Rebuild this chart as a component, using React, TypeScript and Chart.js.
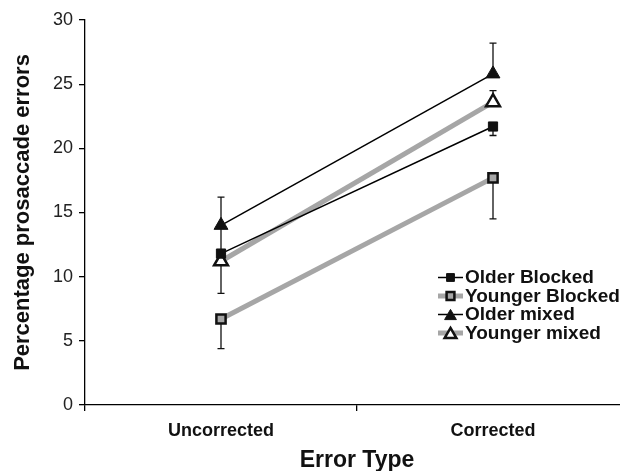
import React, { useEffect, useRef } from 'react';
import { Chart, registerables } from 'chart.js';

Chart.register(...registerables);

const categories = ['Uncorrected', 'Corrected'];
const seriesNames = ['Older Blocked', 'Younger Blocked', 'Older mixed', 'Younger mixed'];
const olderBlocked = [11.8, 21.7];
const youngerBlocked = [6.7, 17.7];
const olderMixed = [14.0, 25.8];
const youngerMixed = [11.2, 23.6];
// one-sided error bars (negative = drawn downward)
const olderBlockedErr = [-3.1, -0.7];
const youngerBlockedErr = [-2.3, -3.2];
const olderMixedErr = [2.2, 2.4];
const youngerMixedErr = [2.6, 0.9];
const yTicks = [0, 5, 10, 15, 20, 25, 30];
const xTitle = 'Error Type';
const yTitle = 'Percentage prosaccade errors';

const FONT = "'Liberation Sans', Arial, Helvetica, sans-serif";
const BLACK = '#000000';
const GRAY = '#a6a6a6';

const errorArrays = [olderBlockedErr, youngerBlockedErr, olderMixedErr, youngerMixedErr];

const errorBarPlugin = {
  id: 'errorBars',
  beforeDatasetsDraw(chart: any) {
    const { ctx } = chart;
    const x = chart.scales.x;
    const y = chart.scales.y;
    ctx.save();
    ctx.strokeStyle = '#111';
    ctx.lineWidth = 1.3;
    errorArrays.forEach((errs, di) => {
      const vals = chart.data.datasets[di].data as number[];
      errs.forEach((e, i) => {
        const px = x.getPixelForValue(i);
        const y0 = y.getPixelForValue(vals[i]);
        const y1 = y.getPixelForValue(vals[i] + e);
        ctx.beginPath();
        ctx.moveTo(px, y0);
        ctx.lineTo(px, y1);
        ctx.moveTo(px - 3.5, y1);
        ctx.lineTo(px + 3.5, y1);
        ctx.stroke();
      });
    });
    ctx.restore();
  },
};

function drawMarker(ctx: CanvasRenderingContext2D, style: string, cx: number, cy: number, r: number, fill: string, stroke: string, lw: number) {
  ctx.beginPath();
  if (style === 'rect') {
    const s = Math.SQRT1_2 * r;
    ctx.rect(cx - s, cy - s, 2 * s, 2 * s);
  } else {
    const a = Math.PI / 2;
    for (let k = 0; k < 3; k++) {
      const ang = -a + (k * 2 * Math.PI) / 3;
      const px = cx + Math.cos(ang) * r;
      const py = cy + Math.sin(ang) * r + r * 0.25;
      if (k === 0) ctx.moveTo(px, py);
      else ctx.lineTo(px, py);
    }
    ctx.closePath();
  }
  ctx.fillStyle = fill;
  ctx.fill();
  if (lw > 0) {
    ctx.strokeStyle = stroke;
    ctx.lineWidth = lw;
    ctx.stroke();
  }
}

const legendPlugin = {
  id: 'customLegend',
  afterDraw(chart: any) {
    const { ctx } = chart;
    const rowY = [277.5, 296, 314.5, 333];
    const x0 = 438;
    const x1 = 463;
    ctx.save();
    chart.data.datasets.forEach((ds: any, i: number) => {
      const cy = rowY[i];
      ctx.beginPath();
      ctx.strokeStyle = ds.borderColor;
      ctx.lineWidth = ds.borderWidth;
      ctx.moveTo(x0, cy);
      ctx.lineTo(x1, cy);
      ctx.stroke();
      drawMarker(ctx, ds.pointStyle, (x0 + x1) / 2, cy, ds.pointRadius * 0.85, ds.pointBackgroundColor, ds.pointBorderColor, ds.pointBorderWidth);
      ctx.fillStyle = '#111';
      ctx.font = `bold 19px ${FONT}`;
      ctx.textBaseline = 'middle';
      ctx.textAlign = 'left';
      ctx.fillText(ds.label, x1 + 2, cy + 0.5);
    });
    ctx.restore();
  },
};

export default function App() {
  const canvasRef = useRef<HTMLCanvasElement | null>(null);

  useEffect(() => {
    if (!canvasRef.current) return;
    const chart = new Chart(canvasRef.current, {
      type: 'line',
      data: {
        labels: categories,
        datasets: [
          {
            label: seriesNames[0],
            data: olderBlocked,
            borderColor: BLACK,
            borderWidth: 1.5,
            pointStyle: 'rect',
            pointRadius: 6.5,
            pointBackgroundColor: '#111',
            pointBorderColor: '#111',
            pointBorderWidth: 1,
          },
          {
            label: seriesNames[1],
            data: youngerBlocked,
            borderColor: GRAY,
            borderWidth: 5,
            pointStyle: 'rect',
            pointRadius: 6.5,
            pointBackgroundColor: GRAY,
            pointBorderColor: '#111',
            pointBorderWidth: 2.5,
          },
          {
            label: seriesNames[2],
            data: olderMixed,
            borderColor: BLACK,
            borderWidth: 1.5,
            pointStyle: 'triangle',
            pointRadius: 8,
            pointBackgroundColor: '#111',
            pointBorderColor: '#111',
            pointBorderWidth: 1,
          },
          {
            label: seriesNames[3],
            data: youngerMixed,
            borderColor: GRAY,
            borderWidth: 5,
            pointStyle: 'triangle',
            pointRadius: 8,
            pointBackgroundColor: '#ffffff',
            pointBorderColor: '#111',
            pointBorderWidth: 2.5,
          },
        ] as any,
      },
      options: {
        responsive: false,
        animation: false,
        layout: { padding: { top: 20, right: 11, left: 0, bottom: 0 } },
        plugins: {
          legend: { display: false },
          tooltip: { enabled: false },
        },
        scales: {
          x: {
            type: 'category',
            offset: true,
            grid: { drawOnChartArea: false, offset: true, color: BLACK, tickLength: 6, lineWidth: 1.3 },
            border: { color: BLACK, width: 1.3 },
            ticks: {
              color: '#111',
              font: { family: FONT, size: 18, weight: 'bold' },
              padding: 9,
              maxRotation: 0,
            },
            title: {
              display: true,
              text: xTitle,
              color: '#111',
              font: { family: FONT, size: 23, weight: 'bold' },
              padding: { top: 0, bottom: -3 },
            },
            afterFit: (s: any) => {
              s.height = 66;
            },
          },
          y: {
            min: 0,
            max: 30,
            grid: { drawOnChartArea: false, color: BLACK, tickLength: 6, lineWidth: 1.3 },
            border: { color: BLACK, width: 1.3 },
            ticks: {
              color: '#222',
              font: { family: FONT, size: 18 },
              padding: 6,
            },
            afterBuildTicks: (s: any) => {
              s.ticks = yTicks.map((v) => ({ value: v }));
            },
            title: {
              display: true,
              text: yTitle,
              color: '#111',
              font: { family: FONT, size: 22, weight: 'bold' },
              padding: { top: 10, bottom: 0 },
            },
            afterFit: (s: any) => {
              s.width = 85;
            },
          },
        },
      } as any,
      plugins: [errorBarPlugin, legendPlugin],
    });
    return () => chart.destroy();
  }, []);

  return (
    <div style={{ position: 'fixed', left: 0, top: 0, width: 640, height: 471, background: '#fff' }}>
      <canvas ref={canvasRef} width={640} height={471} style={{ display: 'block' }} />
    </div>
  );
}
